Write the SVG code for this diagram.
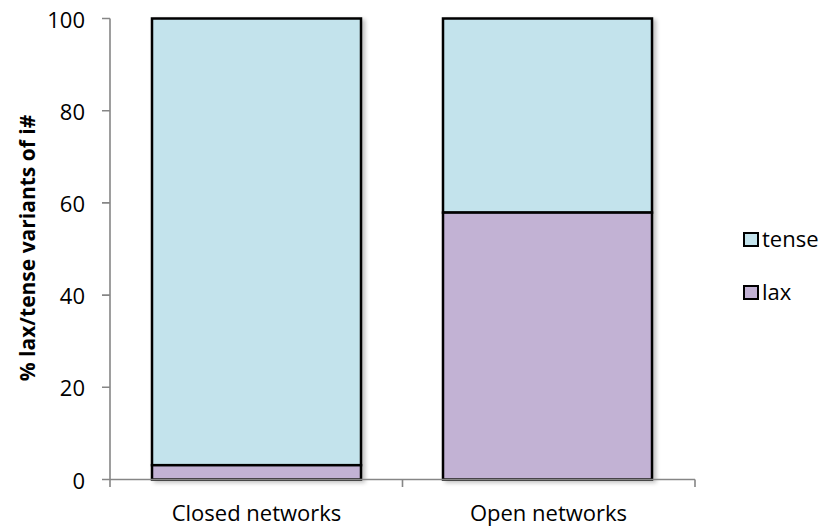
<svg xmlns="http://www.w3.org/2000/svg" width="824" height="527" viewBox="0 0 824 527">
<style>
text{font-family:"Open Sans","Liberation Sans",sans-serif;fill:#000}
.tick{font-size:22px;text-anchor:end}
.cat{font-size:22px;text-anchor:middle}
.leg{font-size:22px}
.title{font-size:21px;font-weight:bold;text-anchor:middle}
.axis{stroke:#868686;stroke-width:1.6;fill:none}
.tense{fill:#C3E3EC;stroke:#000;stroke-width:2.5}
.lax{fill:#C2B2D4;stroke:#000;stroke-width:2.5}
.sw{stroke:#000;stroke-width:2}
</style>
<defs>
<filter id="sh" x="-10%" y="-10%" width="130%" height="130%">
<feGaussianBlur in="SourceAlpha" stdDeviation="2"/>
<feOffset dx="3" dy="2" result="b"/>
<feComponentTransfer><feFuncA type="linear" slope="0.25"/></feComponentTransfer>
<feMerge><feMergeNode/><feMergeNode in="SourceGraphic"/></feMerge>
</filter>
</defs>
<rect width="824" height="527" fill="#fff"/>
<g id="y-axis">
<path class="axis" d="M110 18.5V479.5M102 18.5H110M102 110.7H110M102 202.9H110M102 295.1H110M102 387.3H110M102 479.5H110"/>
<text class="tick" x="85" y="27.5">100</text>
<text class="tick" x="85" y="119.7">80</text>
<text class="tick" x="85" y="211.9">60</text>
<text class="tick" x="85" y="304.1">40</text>
<text class="tick" x="85" y="396.3">20</text>
<text class="tick" x="85" y="488.5">0</text>
<text class="title" transform="translate(35 248) rotate(-90)">% lax/tense variants of i#</text>
</g>
<g id="bar-closed" filter="url(#sh)">
<rect class="tense" x="152" y="18.5" width="209" height="446.7"/>
<rect class="lax" x="152" y="465.2" width="209" height="14.3"/>
</g>
<g id="bar-open" filter="url(#sh)">
<rect class="tense" x="443" y="18.5" width="209" height="194.1"/>
<rect class="lax" x="443" y="212.6" width="209" height="266.9"/>
</g>
<g id="x-axis">
<path class="axis" d="M110 479.5H695M110 479.5V487M402.5 479.5V487M695 479.5V487"/>
<text class="cat" x="256.5" y="521">Closed networks</text>
<text class="cat" x="548.5" y="521">Open networks</text>
</g>
<g id="legend">
<g id="legend-tense">
<rect class="sw" x="744" y="233" width="14" height="13" fill="#C3E3EC"/>
<text class="leg" x="762" y="247">tense</text>
</g>
<g id="legend-lax">
<rect class="sw" x="744" y="286" width="14" height="13" fill="#C2B2D4"/>
<text class="leg" x="762" y="300">lax</text>
</g>
</g>
</svg>
